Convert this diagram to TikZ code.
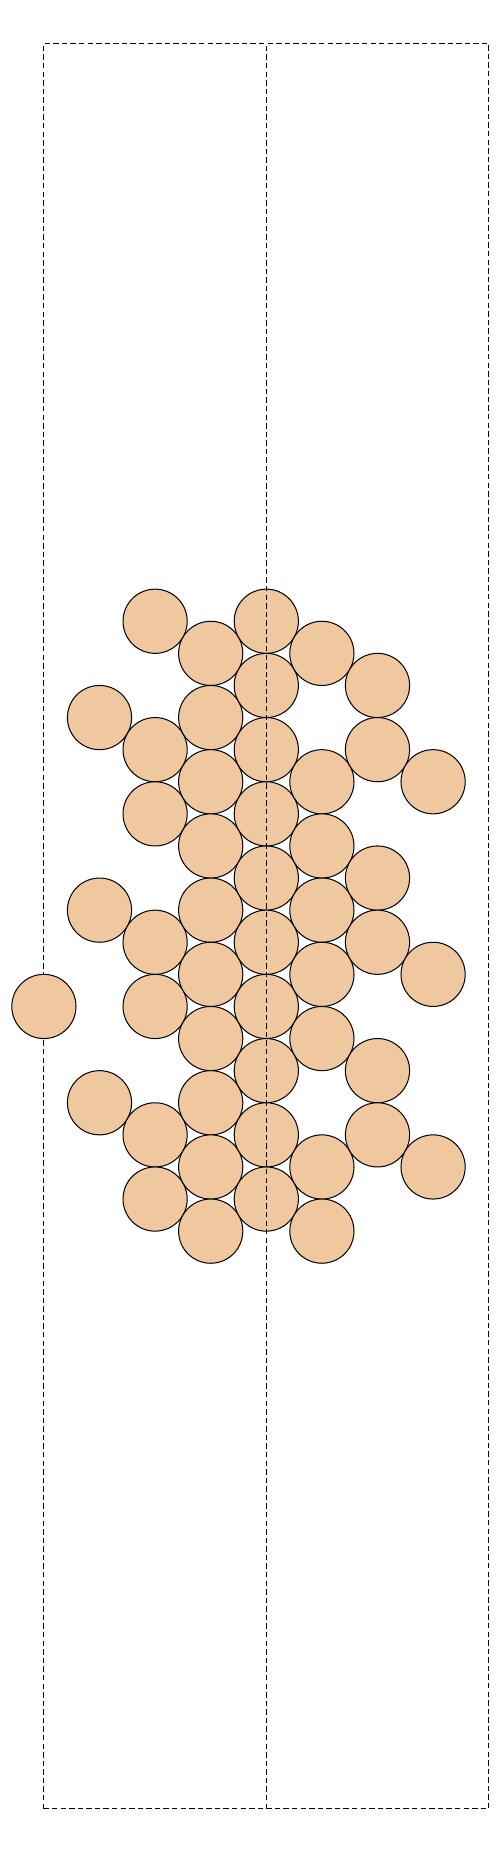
\documentclass[tikz,border=0pt]{standalone}
\definecolor{grainfill}{RGB}{240,200,160}
\begin{document}
\begin{tikzpicture}[line join=round,line cap=butt]
	\tikzset{grain/.style={fill=grainfill,draw=black,line width=0.45pt},
		wall/.style={dash pattern=on 2.4pt off 1.4pt,line width=0.45pt}}
	\useasboundingbox (-4.148,-14.436) rectangle (3.640,14.427);
	% container
	\draw[wall] (-3.4641,-13.75) rectangle (3.4641,13.75);
	% grains on the hexagonal lattice (column / rows)
	\foreach \c/\rows in {-4/{12},-3/{3,9,15},-2/{0,4,6,10,12,16,18},
		-1/{1,3,5,7,9,11,13,15,17,19},0/{0,2,4,6,8,10,12,14,16,18},
		1/{1,5,7,9,11,13,17,19},2/{2,4,8,10,14,16},3/{5,11,17}}
	\foreach \k in \rows
	\filldraw[grain] ({\c*0.8660},{4.75-\k*0.5}) circle (0.5);
	% symmetry axis
	\draw[wall] (0,-13.75)--(0,13.75);
\end{tikzpicture}
\end{document}
